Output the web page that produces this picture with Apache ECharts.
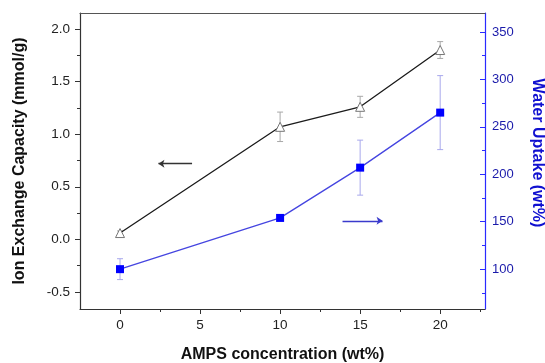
<!DOCTYPE html>
<html>
<head>
<meta charset="utf-8">
<script src="https://cdn.jsdelivr.net/npm/echarts@6/dist/echarts.min.js"></script>
<style>html,body{margin:0;padding:0;background:#fff}#c{width:545px;height:363px}</style>
</head>
<body>
<div id="c"></div>
<script>
const concentration = [0, 10, 15, 20];
const iec = [0.06, 1.07, 1.26, 1.80];
const iecErr = [0.02, 0.14, 0.10, 0.08];
const waterUptake = [100, 154, 207, 265];
const wuErr = [11, 3, 29, 39];

const xTicks = [0, 5, 10, 15, 20];
const xMinor = [2.5, 7.5, 12.5, 17.5, 22.5];
const leftTicks = [-0.5, 0, 0.5, 1.0, 1.5, 2.0];
const leftMinor = [-0.25, 0.25, 0.75, 1.25, 1.75];
const rightTicks = [100, 150, 200, 250, 300, 350];
const rightMinor = [75, 125, 175, 225, 275, 325];

const leftArrow = [[4.5, 0.72], [2.4, 0.72]];
const rightArrow = [[13.9, 151], [16.4, 151]];

const FONT = '"Liberation Sans", Arial, sans-serif';
const BLUE = '#0000ff';
const AXIS = '#333333';

function errSeries(xs, ys, es, yIdx, color) {
  return {
    type: 'custom', xAxisIndex: 0, yAxisIndex: yIdx, z: 1,
    data: xs.map((x, i) => [x, ys[i] - es[i], ys[i] + es[i]]),
    renderItem: function (params, api) {
      const lo = api.coord([api.value(0), api.value(1)]);
      const hi = api.coord([api.value(0), api.value(2)]);
      const w = 3;
      const st = { stroke: color, lineWidth: 1 };
      return { type: 'group', children: [
        { type: 'line', shape: { x1: lo[0], y1: lo[1], x2: hi[0], y2: hi[1] }, style: st },
        { type: 'line', shape: { x1: lo[0] - w, y1: lo[1], x2: lo[0] + w, y2: lo[1] }, style: st },
        { type: 'line', shape: { x1: hi[0] - w, y1: hi[1], x2: hi[0] + w, y2: hi[1] }, style: st }
      ]};
    }
  };
}

const chart = echarts.init(document.getElementById('c'), null, { renderer: 'canvas' });
chart.setOption({
  animation: false,
  backgroundColor: '#ffffff',
  grid: { left: 80, right: 60, top: 13, bottom: 54, containLabel: false, outerBoundsMode: 'none' },
  xAxis: [
    {
      type: 'value', min: -2.5, max: 22.8, position: 'bottom',
      name: 'AMPS concentration (wt%)', nameLocation: 'middle', nameGap: 38,
      nameTextStyle: { fontFamily: FONT, fontWeight: 'bold', fontSize: 16, color: '#111' },
      axisLine: { show: true, onZero: false, lineStyle: { color: AXIS, width: 1.2 } },
      axisTick: { show: true, inside: false, length: 5, customValues: xTicks, lineStyle: { color: AXIS } },
      axisLabel: { show: true, customValues: xTicks, margin: 9, fontFamily: FONT, fontSize: 13.5, color: '#222' },
      splitLine: { show: false }
    },
    {
      type: 'value', min: -2.5, max: 22.8, position: 'bottom',
      axisLine: { show: false, onZero: false },
      axisTick: { show: true, inside: false, length: 3, customValues: xMinor, lineStyle: { color: AXIS } },
      axisLabel: { show: false },
      splitLine: { show: false }
    },
    {
      type: 'value', min: -2.5, max: 22.8, position: 'top',
      axisLine: { show: true, onZero: false, lineStyle: { color: '#555', width: 1.2 } },
      axisTick: { show: false }, axisLabel: { show: false }, splitLine: { show: false }
    }
  ],
  yAxis: [
    {
      type: 'value', min: -0.662, max: 2.152, position: 'left',
      name: 'Ion Exchange Capacity (mmol/g)', nameLocation: 'middle', nameGap: 52,
      nameTextStyle: { fontFamily: FONT, fontWeight: 'bold', fontSize: 16, color: '#111' },
      axisLine: { show: true, onZero: false, lineStyle: { color: AXIS, width: 1.2 } },
      axisTick: { show: true, inside: false, length: 5, customValues: leftTicks, lineStyle: { color: AXIS } },
      axisLabel: { show: true, customValues: leftTicks, margin: 10, fontFamily: FONT, fontSize: 13.5, color: '#222',
        formatter: v => v.toFixed(1) },
      splitLine: { show: false }
    },
    {
      type: 'value', min: -0.662, max: 2.152, position: 'left',
      axisLine: { show: false, onZero: false },
      axisTick: { show: true, inside: false, length: 3, customValues: leftMinor, lineStyle: { color: AXIS } },
      axisLabel: { show: false }, splitLine: { show: false }
    },
    {
      type: 'value', min: 58, max: 370, position: 'right',
      name: 'Water Uptake (wt%)', nameLocation: 'middle', nameGap: 44, nameRotate: -90,
      nameTextStyle: { fontFamily: FONT, fontWeight: 'bold', fontSize: 16, color: '#1010d0', padding: [0, 16, 0, 0] },
      axisLine: { show: true, onZero: false, lineStyle: { color: '#2a2aff', width: 1.2 } },
      axisTick: { show: true, inside: true, length: 5, customValues: rightTicks, lineStyle: { color: '#2a2aff' } },
      axisLabel: { show: true, customValues: rightTicks, margin: 7, fontFamily: FONT, fontSize: 13, color: '#1a1aaa' },
      splitLine: { show: false }
    },
    {
      type: 'value', min: 58, max: 370, position: 'right',
      axisLine: { show: false, onZero: false },
      axisTick: { show: true, inside: true, length: 3, customValues: rightMinor, lineStyle: { color: '#2a2aff' } },
      axisLabel: { show: false }, splitLine: { show: false }
    }
  ],
  series: [
    errSeries(concentration, iec, iecErr, 0, '#a8a8a8'),
    errSeries(concentration, waterUptake, wuErr, 2, '#a8a8ec'),
    {
      type: 'line', xAxisIndex: 0, yAxisIndex: 0, z: 3,
      data: concentration.map((x, i) => [x, iec[i]]),
      symbol: 'triangle', symbolSize: 9,
      lineStyle: { color: '#1a1a1a', width: 1.3 },
      itemStyle: { color: '#ffffff', borderColor: '#777777', borderWidth: 1 },
      markLine: {
        silent: true, symbolSize: [6, 6], label: { show: false },
        lineStyle: { color: '#333333', width: 1.3, type: 'solid' },
        data: [[{ coord: leftArrow[0], symbol: 'none' }, { coord: leftArrow[1], symbol: 'arrow' }]]
      }
    },
    {
      type: 'line', xAxisIndex: 0, yAxisIndex: 2, z: 3,
      data: concentration.map((x, i) => [x, waterUptake[i]]),
      symbol: 'rect', symbolSize: 8,
      lineStyle: { color: '#4545e0', width: 1.3 },
      itemStyle: { color: BLUE, borderWidth: 0 },
      markLine: {
        silent: true, symbolSize: [6, 6], label: { show: false },
        lineStyle: { color: '#3a3acc', width: 1.3, type: 'solid' },
        data: [[{ coord: rightArrow[0], symbol: 'none' }, { coord: rightArrow[1], symbol: 'arrow' }]]
      }
    }
  ]
});
</script>
</body>
</html>
